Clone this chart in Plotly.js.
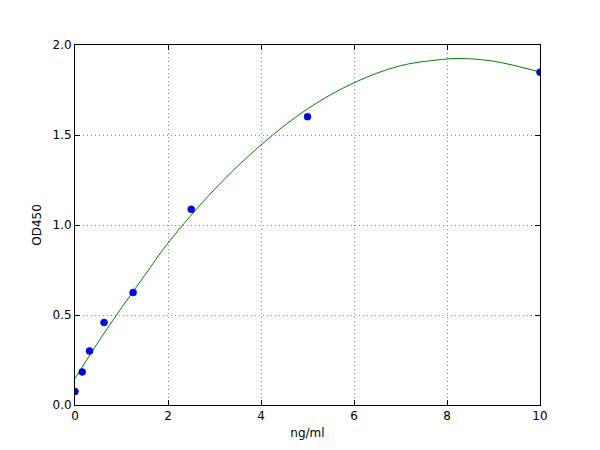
<!DOCTYPE html>
<html>
<head>
<meta charset="utf-8">
<script src="https://cdn.plot.ly/plotly-3.0.1.min.js"></script>
<style>html,body{margin:0;padding:0;background:#fff;}#chart{width:600px;height:450px;}</style>
</head>
<body>
<div id="chart"></div>
<script>
// Standard points
var concX = [0, 0.156, 0.3125, 0.625, 1.25, 2.5, 5, 10];
var odY = [0.075, 0.184, 0.30, 0.459, 0.625, 1.087, 1.602, 1.849];
// Fitted curve
var fitX = [0, 0.5, 1, 1.5, 2, 3, 4, 5, 6, 7, 8, 8.3, 9, 10];
var fitY = [0.147, 0.35, 0.54, 0.72, 0.90, 1.198, 1.445, 1.645, 1.79, 1.885, 1.922, 1.925, 1.91, 1.85];
var xTicks = [0, 2, 4, 6, 8, 10];
var yTicks = [0, 0.5, 1.0, 1.5, 2.0];

var font = {family: 'DejaVu Sans', size: 12, color: '#000'};
var axisCommon = {
  showline: true, linecolor: '#000', linewidth: 1, mirror: 'ticks',
  ticks: 'inside', ticklen: 5, tickcolor: '#000', tickwidth: 1,
  showgrid: true, gridcolor: '#888', griddash: '1px,3px', gridwidth: 1,
  zeroline: false, tickfont: font
};
var data = [
  {x: fitX, y: fitY, mode: 'lines', type: 'scatter', line: {color: '#008000', width: 1, shape: 'spline', smoothing: 1}, hoverinfo: 'skip'},
  {x: concX, y: odY, mode: 'markers', type: 'scatter', marker: {color: '#0000ff', size: 7, line: {color: '#000080', width: 0.5}}}
];
var layout = {
  width: 600, height: 450,
  margin: {l: 75, r: 60, t: 45, b: 45},
  paper_bgcolor: '#fff', plot_bgcolor: '#fff',
  showlegend: false,
  font: font,
  xaxis: Object.assign({}, axisCommon, {range: [0, 10], tickvals: xTicks, ticktext: xTicks.map(String), title: {text: 'ng/ml', font: font, standoff: 6}}),
  yaxis: Object.assign({}, axisCommon, {range: [0, 2], tickvals: yTicks, ticktext: yTicks.map(function(v){return v.toFixed(1);}), title: {text: 'OD450', font: font, standoff: 8}})
};
Plotly.newPlot('chart', data, layout, {staticPlot: true});
</script>
</body>
</html>
